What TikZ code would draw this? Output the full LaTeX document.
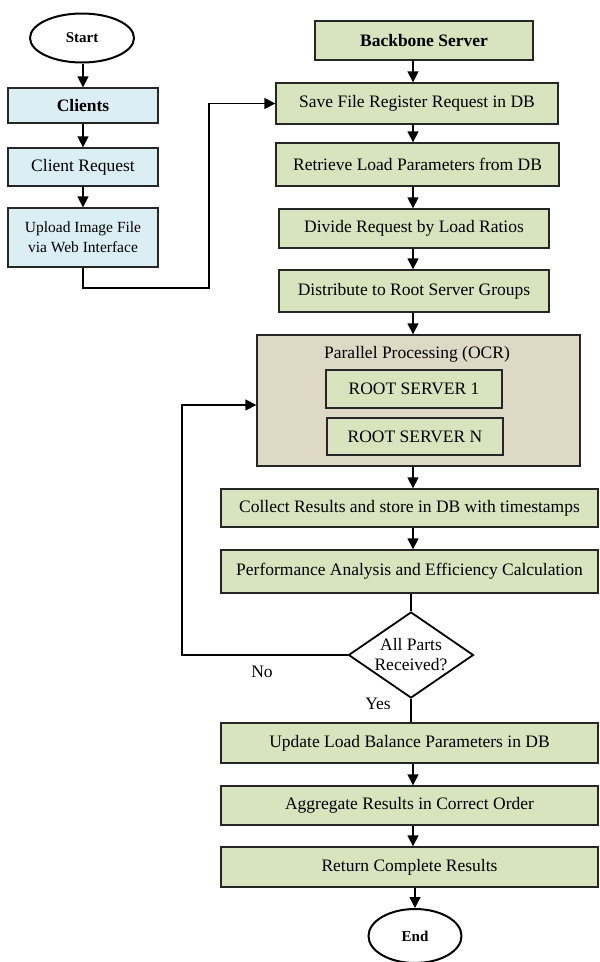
\documentclass[tikz,border=0pt]{standalone}
\usepackage{fontspec}
\setmainfont{Liberation Serif}
\usetikzlibrary{shapes.geometric,arrows.meta,calc}
\definecolor{bluefill}{HTML}{DBEEF4}
\definecolor{greenfill}{HTML}{D7E4BD}
\definecolor{tanfill}{HTML}{DDD9C4}
\definecolor{edgecol}{HTML}{262626}
\begin{document}
\begin{tikzpicture}[x=1pt,y=-1pt,
  box/.style={draw=edgecol,line width=1.3pt,rectangle,inner sep=0pt,align=center,font=\fontsize{17.5}{20}\selectfont},
  bbox/.style={box,fill=bluefill},
  gbox/.style={box,fill=greenfill},
  term/.style={draw=black,line width=2pt,ellipse,inner sep=0pt,font=\bfseries\fontsize{15}{18}\selectfont},
  arr/.style={line width=1.3pt,-{Triangle[width=11pt,length=11pt]}},
  ln/.style={line width=1.3pt},
  lbl/.style={font=\fontsize{17.5}{20}\selectfont,inner sep=0pt}]
\useasboundingbox (0,0) rectangle (600,962);
% left column
\node[term,minimum width=104,minimum height=49] (start) at (82,38) {Start};
\node[bbox,minimum width=150,minimum height=35,font=\bfseries\fontsize{17.5}{20}\selectfont] (clients) at (83,105.5) {Clients};
\node[bbox,minimum width=150,minimum height=38] (creq) at (83,167) {Client Request};
\node[bbox,minimum width=150,minimum height=59,font=\fontsize{15.5}{20}\selectfont] (upload) at (83,237.5) {Upload Image File\\via Web Interface};
% right column
\coordinate (cx) at (413,0);
\node[gbox,minimum width=218,minimum height=39,font=\bfseries\fontsize{17.5}{20}\selectfont] (backbone) at (424,40.5) {Backbone Server};
\node[gbox,minimum width=282,minimum height=41] (save) at (417,103.5) {Save File Register Request in DB};
\node[gbox,minimum width=283,minimum height=43] (retrieve) at (417.5,164.5) {Retrieve Load Parameters from DB};
\node[gbox,minimum width=270,minimum height=39] (divide) at (414,228.5) {Divide Request by Load Ratios};
\node[gbox,minimum width=270,minimum height=42] (distribute) at (414,291) {Distribute to Root Server Groups};
\node[box,fill=tanfill,minimum width=323,minimum height=131] (par) at (418.5,400.5) {};
\node[lbl] (partitle) at (417,354) {Parallel Processing (OCR)};
\node[gbox,minimum width=176,minimum height=38] (rs1) at (414,389) {ROOT SERVER 1};
\node[gbox,minimum width=176,minimum height=37] (rsn) at (415,436.5) {ROOT SERVER N};
\node[gbox,minimum width=377,minimum height=38] (collect) at (409.5,508) {Collect Results and store in DB with timestamps};
\node[gbox,minimum width=377,minimum height=43] (perf) at (409.5,571.5) {Performance Analysis and Efficiency Calculation};
\node[draw=black,line width=1.8pt,diamond,aspect=1.45,minimum width=125,minimum height=86,inner sep=0pt,fill=white,align=center,font=\fontsize{17.5}{20}\selectfont] (dia) at (411,655) {All Parts\\Received?};
\node[gbox,minimum width=377,minimum height=40] (update) at (409.5,743) {Update Load Balance Parameters in DB};
\node[gbox,minimum width=377,minimum height=39] (aggregate) at (409.5,805.5) {Aggregate Results in Correct Order};
\node[gbox,minimum width=377,minimum height=40] (return) at (409.5,867) {Return Complete Results};
\node[term,minimum width=93,minimum height=54] (end) at (415,936) {End};
\node[lbl] (no) at (262,672) {No};
\node[lbl] (yes) at (378,704) {Yes};
% connectors left
\draw[arr] (start.south -| clients.north) -- (clients.north);
\draw[arr] (clients) -- (creq);
\draw[arr] (creq) -- (upload);
\coordinate (u1) at (209,288);
\draw[arr] (upload.south) |- (u1) |- (save.west);
% connectors right
\draw[arr] (backbone.south -| cx) -- (save.north -| cx);
\draw[arr] (save.south -| cx) -- (retrieve.north -| cx);
\draw[arr] (retrieve.south -| cx) -- (divide.north -| cx);
\draw[arr] (divide.south -| cx) -- (distribute.north -| cx);
\draw[arr] (distribute.south -| cx) -- (par.north -| cx);
\draw[arr] (par.south -| cx) -- (collect.north -| cx);
\draw[arr] (collect.south -| cx) -- (perf.north -| cx);
\draw[ln] (perf.south -| dia.north) -- (dia.north);
\coordinate (fb) at (182,405);
\draw[arr] (dia.west) -| (fb) -- (fb -| par.west);
\draw[ln] (dia.south) -- (update.north -| dia.south);
\draw[arr] (update.south -| cx) -- (aggregate.north -| cx);
\draw[arr] (aggregate.south -| cx) -- (return.north -| cx);
\draw[arr] (return.south -| end.north) -- (end.north);
\end{tikzpicture}
\end{document}
